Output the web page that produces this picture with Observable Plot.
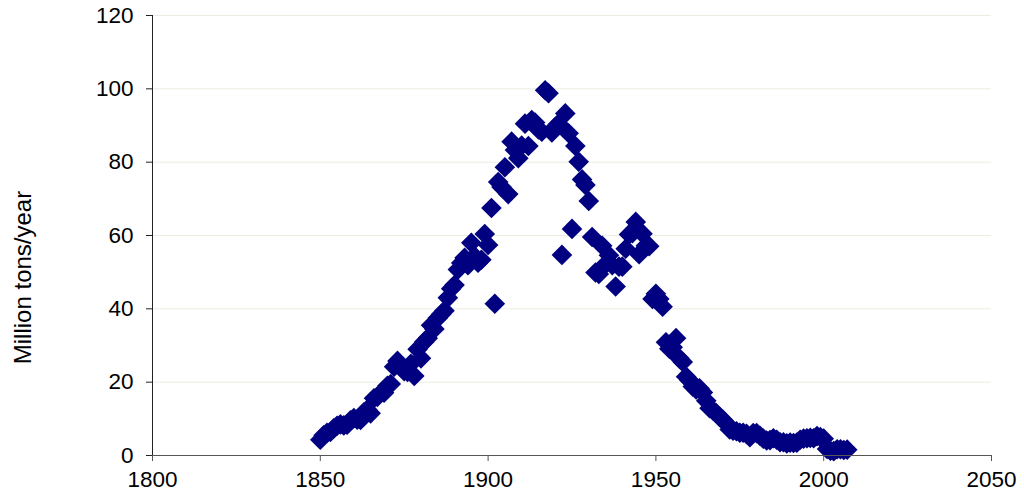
<!DOCTYPE html>
<html>
<head>
<meta charset="utf-8">
<script src="https://cdn.jsdelivr.net/npm/d3@7"></script>
<script src="https://cdn.jsdelivr.net/npm/@observablehq/plot@0.6"></script>
<style>
  html, body { margin: 0; padding: 0; background: #fff; }
  #chart { width: 1024px; height: 499px; }
</style>
</head>
<body>
<div id="chart"></div>
<script>
const years = [
  1850,1851,1852,1853,1854,1855,1856,1857,1858,1859,
  1860,1861,1862,1863,1864,1865,1866,1867,1868,1869,
  1870,1871,1872,1873,1874,1875,1876,1877,1878,1879,
  1880,1881,1882,1883,1884,1885,1886,1887,1888,1889,
  1890,1891,1892,1893,1894,1895,1896,1897,1898,1899,
  1900,1901,1902,1903,1904,1905,1906,1907,1908,1909,
  1910,1911,1912,1913,1914,1915,1916,1917,1918,1919,
  1920,1921,1922,1923,1924,1925,1926,1927,1928,1929,
  1930,1931,1932,1933,1934,1935,1936,1937,1938,1939,
  1940,1941,1942,1943,1944,1945,1946,1947,1948,1949,
  1950,1951,1952,1953,1954,1955,1956,1957,1958,1959,
  1960,1961,1962,1963,1964,1965,1966,1967,1968,1969,
  1970,1971,1972,1973,1974,1975,1976,1977,1978,1979,
  1980,1981,1982,1983,1984,1985,1986,1987,1988,1989,
  1990,1991,1992,1993,1994,1995,1996,1997,1998,1999,
  2000,2001,2002,2003,2004,2005,2006,2007
];
const production = [
  4.3, 5.5, 6.2, 6.4, 7.4, 8.1, 8.5, 8.2, 8.4, 9.6,
  10.2, 9.8, 9.7, 11.8, 12.5, 11.5, 15.6, 16.0, 17.0, 17.1,
  19.0, 19.5, 24.2, 25.8, 24.2, 23.0, 22.8, 25.0, 21.7, 29.0,
  26.5, 31.0, 32.0, 35.5, 34.5, 37.5, 38.5, 39.5, 43.0, 45.5,
  46.5, 50.7, 52.5, 53.9, 51.9, 58.0, 54.3, 52.6, 53.4, 60.4,
  57.4, 67.5, 41.4, 74.6, 73.2, 78.6, 71.3, 85.6, 83.3, 81.1,
  84.5, 90.5, 84.4, 91.5, 90.8, 88.9, 88.3, 99.6, 98.8, 88.1,
  89.6, 90.5, 54.7, 93.3, 87.9, 61.8, 84.4, 80.1, 75.3, 73.8,
  69.4, 59.6, 49.9, 49.5, 57.2, 52.2, 54.6, 51.9, 46.1, 51.5,
  51.5, 56.4, 60.3, 60.6, 63.7, 54.9, 60.5, 57.2, 57.1, 42.7,
  44.1, 42.7, 40.6, 30.9, 29.1, 29.5, 32.0, 26.5, 25.5, 21.5,
  20.5, 18.8, 18.0, 18.3, 17.2, 14.9, 12.9, 12.3, 11.5, 10.5,
  9.7, 8.7, 7.1, 6.8, 6.6, 6.2, 6.2, 5.9, 5.0, 6.1,
  6.1, 5.4, 4.6, 4.1, 4.2, 4.7, 4.3, 3.6, 3.6, 3.3,
  3.5, 3.4, 3.5, 4.3, 4.6, 4.7, 4.8, 4.7, 5.3, 5.0,
  4.6, 1.8, 1.3, 1.2, 1.7, 1.7, 1.5, 1.6
];
const xTicks = [1800, 1850, 1900, 1950, 2000, 2050];
const yTicks = [0, 20, 40, 60, 80, 100, 120];
const yLabel = ["Million tons/year"];

const data = years.map((year, i) => ({year, value: production[i]}));

const font = "'Liberation Sans', Arial, sans-serif";

const chart = Plot.plot({
  width: 1024,
  height: 499,
  marginLeft: 152,
  marginRight: 33,
  marginTop: 15,
  marginBottom: 44,
  style: {fontFamily: font, background: "#fff", color: "#000"},
  x: {domain: [1800, 2050]},
  y: {domain: [0, 120]},
  marks: [
    Plot.gridY(yTicks.slice(1), {stroke: "#ecece2", strokeOpacity: 1, strokeWidth: 1}),
    Plot.dot(data, {x: "year", y: "value", symbol: "diamond2", r: 9.3, fill: "#000080", stroke: "none"}),
    Plot.ruleY([0], {stroke: "#555", strokeWidth: 1}),
    Plot.ruleX([1800], {stroke: "#222", strokeWidth: 1}),
    Plot.axisX(xTicks, {tickSize: 6, tickPadding: 10, fontSize: 22.5, tickFormat: d => String(d), label: null, stroke: "#555", fill: "#000"}),
    Plot.axisY(yTicks, {tickSize: 6, tickPadding: 13, fontSize: 22.5, label: null, stroke: "#222", fill: "#000"}),
    Plot.text(yLabel, {frameAnchor: "left", textAnchor: "middle", lineAnchor: "middle", dx: -129, dy: 42, rotate: -90, fontSize: 24, fill: "#000", text: d => d})
  ]
});
document.getElementById("chart").appendChild(chart);
</script>
</body>
</html>
